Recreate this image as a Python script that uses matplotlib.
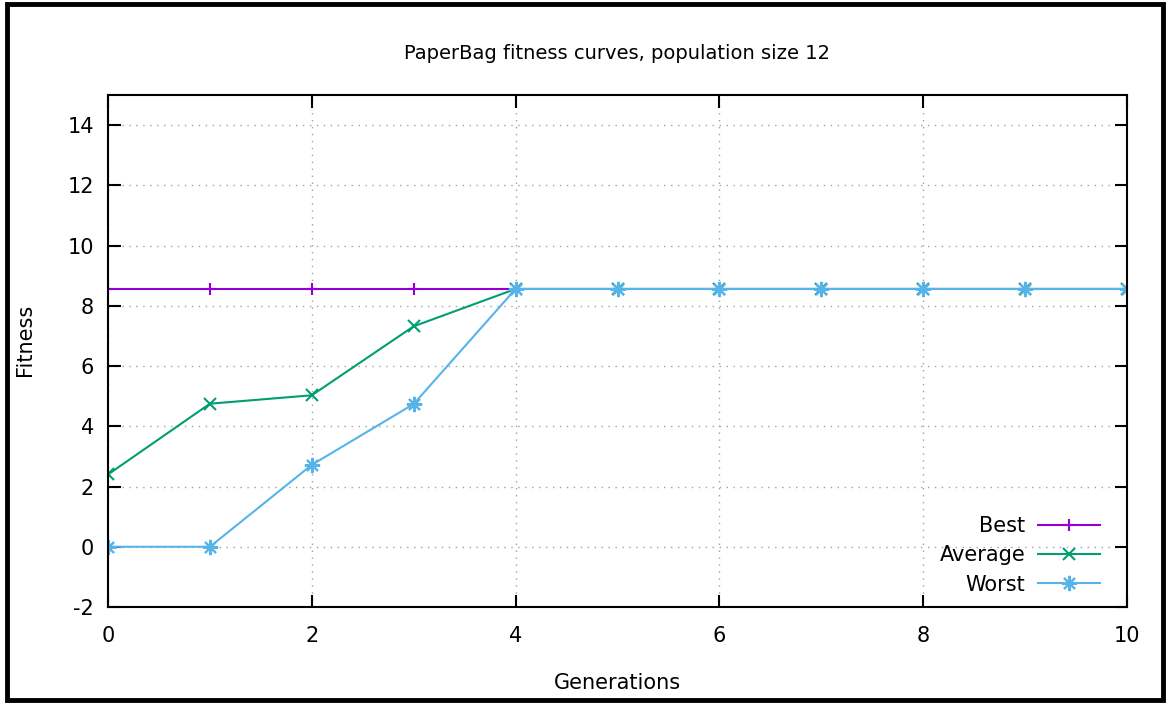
import matplotlib
matplotlib.use('Agg')
import matplotlib.pyplot as plt
from matplotlib.patches import Rectangle

# data
generations = [0, 1, 2, 3, 4, 5, 6, 7, 8, 9, 10]
best = [8.56, 8.56, 8.56, 8.56, 8.56, 8.56, 8.56, 8.56, 8.56, 8.56, 8.56]
average = [2.4, 4.75, 5.03, 7.32, 8.56, 8.56, 8.56, 8.56, 8.56, 8.56, 8.56]
worst = [0.0, 0.0, 2.72, 4.74, 8.56, 8.56, 8.56, 8.56, 8.56, 8.56, 8.56]

x_ticks = [0, 2, 4, 6, 8, 10]
y_ticks = [-2, 0, 2, 4, 6, 8, 10, 12, 14]

plt.rcParams['font.family'] = 'DejaVu Sans'
plt.rcParams['axes.unicode_minus'] = False

fig = plt.figure(figsize=(11.67, 7.04), dpi=100)
W, H = 1167, 704
ax = fig.add_axes([108 / W, 1 - 607 / H, (1127 - 108) / W, (607 - 95) / H])

# outer black frame like the screenshot
fig.patches.append(Rectangle((7 / W, 4 / H), (1163 - 7) / W, (700 - 4) / H,
                             transform=fig.transFigure, fill=False,
                             edgecolor='black', linewidth=3.5))

ax.plot(generations, best, color='#9400d3', lw=1.5, marker='+', ms=9, mew=1.5, label='Best')
ax.plot(generations, average, color='#009e73', lw=1.5, marker='x', ms=8, mew=1.5, label='Average')
ax.plot(generations, worst, color='#56b4e9', lw=1.5, marker=(8, 2, 0), ms=11, mew=1.5, label='Worst')

ax.set_xlim(0, 10)
ax.set_ylim(-2, 15)
ax.set_xticks(x_ticks)
ax.set_yticks(y_ticks)
ax.tick_params(direction='in', length=9, width=1.5, top=True, right=True,
               labelsize=15, pad=10, colors='black')
ax.tick_params(axis='x', pad=14)
ax.grid(True, linestyle=(0, (1, 4)), color='#a0a0a0', linewidth=1)
for sp in ax.spines.values():
    sp.set_linewidth(1.5)

ax.set_title('PaperBag fitness curves, population size 12', fontsize=14, pad=26)
ax.set_xlabel('Generations', fontsize=15, labelpad=19)
ax.set_ylabel('Fitness', fontsize=15)
ax.yaxis.set_label_coords((35 - 108) / (1127 - 108), (607 - 340) / (607 - 95))

leg = ax.legend(loc='lower right', frameon=False, markerfirst=False, fontsize=15,
                handlelength=3, labelspacing=0.45, borderaxespad=0,
                handletextpad=0.6, bbox_to_anchor=(0.982, 0.008))
for t in leg.get_texts():
    t.set_ha('right')

fig.savefig('out.png', dpi=100)
